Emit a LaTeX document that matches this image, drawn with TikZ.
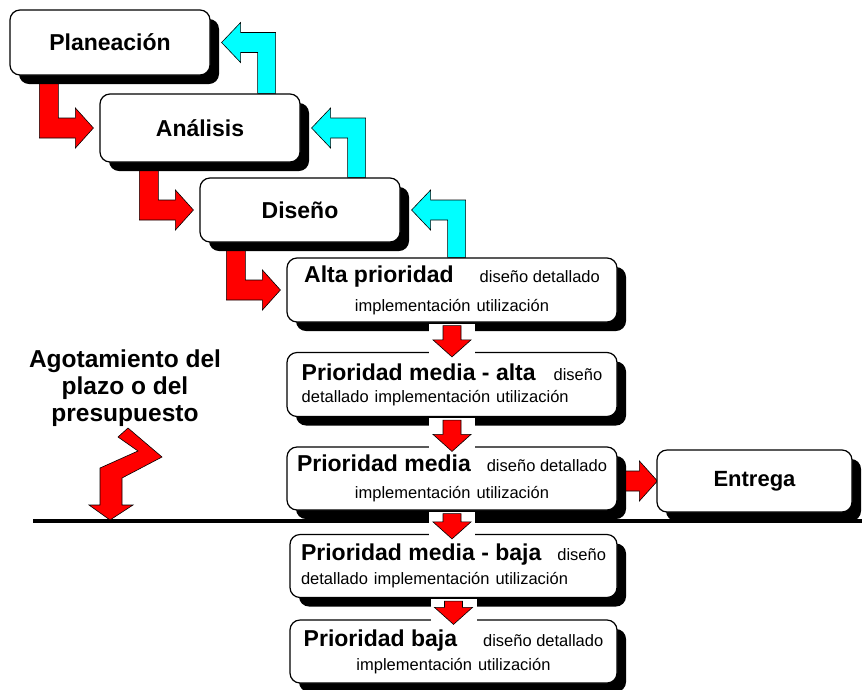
\documentclass[tikz,border=0pt]{standalone}
\usepackage{fontspec}
\setmainfont{Liberation Sans}
\usetikzlibrary{calc,shadows}
\pgfdeclarelayer{background}
\pgfsetlayers{background,main}
\definecolor{aqua}{RGB}{0,255,255}
\definecolor{pure red}{RGB}{255,0,0}

\newcommand{\prio}[1]{{\fontsize{23}{28}\selectfont\bfseries #1}}
% red bent arrow: down out of one box, right into the next
\newcommand{\redstep}[2]{%
  \draw[arrowline,fill=pure red] let \p1=(#1.south), \p2=(#2.west) in
    (\x2-60pt,\y1) -- (\x2-60pt,\y2-10pt) -- (\x2-24pt,\y2-10pt) -- (\x2-24pt,\y2-20pt)
    -- (\x2-6pt,\y2) -- (\x2-24pt,\y2+20pt) -- (\x2-24pt,\y2+10pt) -- (\x2-41pt,\y2+10pt)
    -- (\x2-41pt,\y1) -- cycle;}
% cyan bent arrow: up out of one box, left back into the one above
\newcommand{\cyanstep}[2]{%
  \draw[arrowline,fill=aqua] let \p1=(#1.north), \p2=(#2.east) in
    (\x2+65pt,\y1) -- (\x2+65pt,\y2+10pt) -- (\x2+30pt,\y2+10pt) -- (\x2+30pt,\y2+20pt)
    -- (\x2+11pt,\y2) -- (\x2+30pt,\y2-20pt) -- (\x2+30pt,\y2-10pt) -- (\x2+47pt,\y2-10pt)
    -- (\x2+47pt,\y1) -- cycle;}
% straight red arrow down between two priority boxes
\newcommand{\reddrop}[2]{%
  \fill[white] let \p1=(#1.south), \p2=(#2.north) in
    (\x1-23pt,\y1-1pt) rectangle (\x1+23pt,\y2-7pt);
  \draw[arrowline,fill=pure red] let \p1=(#1.south), \p2=(#2.north) in
    (\x1-9pt,\y1-3pt) -- (\x1-9pt,\y2+12pt) -- (\x1-19pt,\y2+12pt) -- (\x1,\y2-5pt)
    -- (\x1+19pt,\y2+12pt) -- (\x1+9pt,\y2+12pt) -- (\x1+9pt,\y1-3pt) -- cycle;}
% straight red arrow to the right
\newcommand{\redside}[2]{%
  \draw[arrowline,fill=pure red] let \p1=(#1.east), \p2=(#2.west) in
    (\x1,\y2+10pt) -- (\x2-17pt,\y2+10pt) -- (\x2-17pt,\y2+20pt) -- (\x2+1pt,\y2)
    -- (\x2-17pt,\y2-20pt) -- (\x2-17pt,\y2-10pt) -- (\x1,\y2-10pt) -- cycle;}

\begin{document}
\begin{tikzpicture}[x=1pt, y=-1pt,
  box/.style={draw, line width=1.2pt, rounded corners=10pt, fill=white, inner sep=0pt,
    drop shadow={opacity=1, fill=black, shadow xshift=9pt, shadow yshift=-9pt}},
  phase/.style={box, minimum width=200pt},
  priobox/.style={box, minimum width=330pt, minimum height=64pt,
    font=\fontsize{16.5}{24}\selectfont},
  arrowline/.style={draw=black, line width=0.6pt, line join=miter}]

\useasboundingbox (0,0) rectangle (862,689);

% phases
\node[phase, minimum height=65pt] (plan) at (110,42.5) {\prio{Planeación}};
\node[phase, minimum height=68pt] (anal) at (200,128) {\prio{Análisis}};
\node[phase, minimum height=64pt] (dise) at (300,210) {\prio{Diseño}};

% priorities
\node[priobox, align=center] (alta) at (452,290)
  {\prio{Alta prioridad}\hspace{26pt}diseño detallado\\[5pt]implementación\hspace{6pt}utilización};
\node[priobox, align=left] (malta) at (452,384.5)
  {\prio{Prioridad media - alta}\hspace{18pt}diseño\\[-2pt]detallado\hspace{6pt}implementación\hspace{6pt}utilización};
\node[priobox, align=center, minimum height=63pt] (media) at (452,478.5)
  {\prio{Prioridad media}\hspace{16pt}diseño detallado\\[3pt]implementación\hspace{6pt}utilización};
\node[priobox, align=left, minimum width=327pt, minimum height=63pt] (mbaja) at (453.5,566)
  {\prio{Prioridad media - baja}\hspace{16pt}diseño\\detallado\hspace{6pt}implementación\hspace{6pt}utilización};
\node[priobox, align=center, minimum width=327pt, minimum height=63pt] (baja) at (453.5,651.5)
  {\prio{Prioridad baja}\hspace{26pt}diseño detallado\\implementación\hspace{6pt}utilización};

\node[box, minimum width=195pt, minimum height=62pt] (entrega) at (754.5,481)
  {{\fontsize{22}{26}\selectfont\bfseries Entrega}};

\node[align=center, font=\fontsize{24.5}{27}\selectfont\bfseries] (agot) at (125,388)
  {Agotamiento del\\plazo o del\\presupuesto};

\coordinate (limL) at (33,521);
\coordinate (limR) at (862,521);

\begin{pgfonlayer}{background}
\draw[line width=3.5pt] (limL) -- (limR);

\redstep{plan}{anal}
\redstep{anal}{dise}
\redstep{dise}{alta}

\cyanstep{anal}{plan}
\cyanstep{dise}{anal}
\cyanstep{alta}{dise}

\redside{media}{entrega}
\end{pgfonlayer}

\reddrop{alta}{malta}
\reddrop{malta}{media}
\reddrop{media}{mbaja}
\reddrop{mbaja}{baja}

% zigzag arrow onto the deadline line
\draw[arrowline,fill=pure red] (118,437) -- (128,428) -- (162,457) -- (122,478) -- (122,505)
  -- (133,505) -- (110,520) -- (89,505) -- (100,505) -- (100,468) -- (138,451) -- cycle;

\end{tikzpicture}
\end{document}
